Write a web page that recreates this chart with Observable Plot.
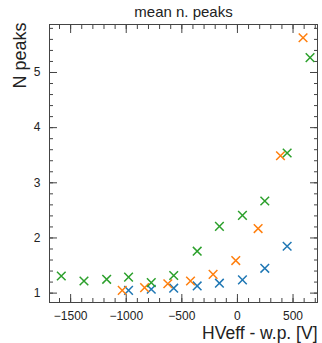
<!DOCTYPE html>
<html>
<head>
<meta charset="utf-8">
<script src="https://cdn.jsdelivr.net/npm/d3@7"></script>
<script src="https://cdn.jsdelivr.net/npm/@observablehq/plot@0.6"></script>
<style>
  html, body { margin: 0; padding: 0; background: #fff; }
</style>
</head>
<body>
<div id="chart"></div>
<script>
const xGreen = [-1584, -1380, -1176, -979, -775, -573, -362, -162, 45, 246, 447, 653];
const yGreen = [1.31, 1.22, 1.25, 1.29, 1.19, 1.32, 1.76, 2.21, 2.41, 2.67, 3.54, 5.27];
const xOrange = [-1036, -835, -626, -422, -219, -15, 186, 387, 590];
const yOrange = [1.05, 1.10, 1.17, 1.22, 1.34, 1.59, 2.17, 3.49, 5.63];
const xBlue = [-979, -775, -573, -362, -162, 45, 246, 447];
const yBlue = [1.05, 1.07, 1.09, 1.13, 1.18, 1.24, 1.45, 1.85];

const xMajor = [-1500, -1000, -500, 0, 500];
const yMajor = [1, 2, 3, 4, 5];
const titleText = "mean n. peaks";
const xLabel = "HVeff - w.p. [V]";
const yLabel = "N peaks";

const xDomain = [-1690, 720];
const yDomain = [0.83, 5.87];
const xMinor = d3.range(-1600, 701, 100);
const yMinor = d3.range(1, 5.81, 0.2).map(v => Math.round(v * 10) / 10);

const toRows = (xs, ys) => xs.map((x, i) => ({x, y: ys[i]}));
const blue = toRows(xBlue, yBlue);
const orange = toRows(xOrange, yOrange);
const green = toRows(xGreen, yGreen);

const axisColor = "#444";
const font = "'Liberation Sans', Arial, Helvetica, sans-serif";

const dotOpts = {x: "x", y: "y", symbol: "times", r: 4, strokeWidth: 1.5};

const chart = Plot.plot({
  width: 322,
  height: 343,
  marginLeft: 49,
  marginRight: 5,
  marginTop: 24,
  marginBottom: 41,
  style: {fontFamily: font, fontSize: "12px", color: "#222", background: "#fff"},
  x: {domain: xDomain},
  y: {domain: yDomain},
  marks: [
    // tick labels
    Plot.axisX({anchor: "bottom", ticks: xMajor, tickSize: 0, tickPadding: 9, tickFormat: d => d < 0 ? "\u2212" + Math.abs(d) : String(d), label: null, fontSize: 12}),
    Plot.axisY({anchor: "left", ticks: yMajor, tickSize: 0, tickPadding: 9, tickFormat: d => String(d), label: null, fontSize: 12}),
    // inward ticks on all four sides
    Plot.axisX({anchor: "bottom", ticks: xMinor, tickSize: -4, text: null, label: null, stroke: axisColor}),
    Plot.axisX({anchor: "bottom", ticks: xMajor, tickSize: -8, text: null, label: null, stroke: axisColor}),
    Plot.axisX({anchor: "top", ticks: xMinor, tickSize: -4, text: null, label: null, stroke: axisColor}),
    Plot.axisX({anchor: "top", ticks: xMajor, tickSize: -8, text: null, label: null, stroke: axisColor}),
    Plot.axisY({anchor: "left", ticks: yMinor, tickSize: -4, text: null, label: null, stroke: axisColor}),
    Plot.axisY({anchor: "left", ticks: yMajor, tickSize: -8, text: null, label: null, stroke: axisColor}),
    Plot.axisY({anchor: "right", ticks: yMinor, tickSize: -4, text: null, label: null, stroke: axisColor}),
    Plot.axisY({anchor: "right", ticks: yMajor, tickSize: -8, text: null, label: null, stroke: axisColor}),
    Plot.frame({stroke: axisColor, strokeWidth: 1}),
    // data
    Plot.dot(blue, {...dotOpts, stroke: "#1f77b4"}),
    Plot.dot(orange, {...dotOpts, stroke: "#ff7f0e"}),
    Plot.dot(green, {...dotOpts, stroke: "#2ca02c"}),
    // texts
    Plot.text([titleText], {frameAnchor: "top", dy: -12, lineAnchor: "middle", fontSize: 15, fill: "#222"}),
    Plot.text([xLabel], {frameAnchor: "bottom-right", textAnchor: "end", lineAnchor: "middle", dy: 31, fontSize: 17.5, fill: "#222"}),
    Plot.text([yLabel], {frameAnchor: "top-left", rotate: -90, textAnchor: "end", lineAnchor: "middle", dx: -29, dy: -2, fontSize: 18, fill: "#222"})
  ]
});
document.getElementById("chart").appendChild(chart);
</script>
</body>
</html>
